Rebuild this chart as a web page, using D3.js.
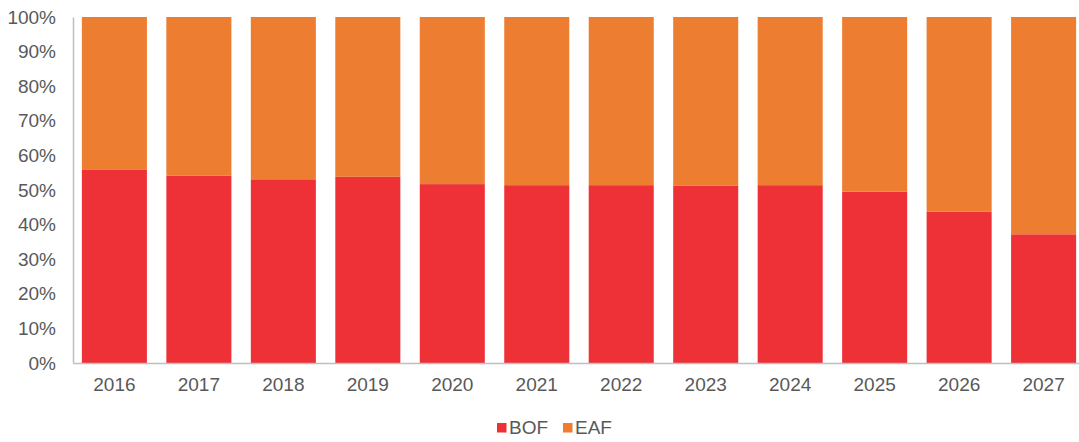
<!DOCTYPE html>
<html><head><meta charset="utf-8">
<script src="https://cdn.jsdelivr.net/npm/d3@7"></script>
<style>
html,body{margin:0;padding:0;background:#fff;}
svg{display:block;font-family:"Liberation Sans",Arial,sans-serif;}
</style></head>
<body>
<svg id="chart" width="1079" height="442"></svg>
<script>
const categories = ["2016","2017","2018","2019","2020","2021","2022","2023","2024","2025","2026","2027"];
const bofShare = [0.558,0.541,0.531,0.538,0.517,0.514,0.514,0.512,0.514,0.495,0.438,0.372];
const eafShare = bofShare.map(v => 1 - v);
const seriesNames = ["BOF","EAF"];
const seriesColors = ["#EE3137","#ED7D31"];
const yTicks = [0,0.1,0.2,0.3,0.4,0.5,0.6,0.7,0.8,0.9,1.0];

const svg = d3.select("#chart");
const x0 = 73, x1 = 1085, yTop = 17, yBot = 363;

const x = d3.scaleBand().domain(categories).range([x0, x1]).paddingInner(0.23).paddingOuter(0.105);
const y = d3.scaleLinear().domain([0,1]).range([yBot, yTop]);

const rows = categories.map((c,i) => ({cat:c, BOF:bofShare[i], EAF:eafShare[i]}));
const stacked = d3.stack().keys(seriesNames)(rows);

svg.append("g").selectAll("g").data(stacked).join("g")
  .attr("fill", (d,i) => seriesColors[i])
  .selectAll("rect").data(d => d).join("rect")
  .attr("x", d => x(d.data.cat))
  .attr("width", x.bandwidth())
  .attr("y", d => y(d[1]))
  .attr("height", d => y(d[0]) - y(d[1]));

// Y axis
const yAxis = svg.append("g").attr("transform", `translate(${x0},0)`)
  .call(d3.axisLeft(y).tickValues(yTicks).tickFormat(d3.format(".0%")).tickSize(0).tickPadding(17));
yAxis.select(".domain").attr("stroke","#bfbfbf").attr("stroke-width",1.5);
yAxis.selectAll("text").attr("fill","#595959").style("font-size","19px");

// X axis
const xAxis = svg.append("g").attr("transform", `translate(0,${yBot})`)
  .call(d3.axisBottom(x).tickSize(0).tickPadding(15));
xAxis.select(".domain").attr("stroke","#bfbfbf").attr("stroke-width",1.5);
xAxis.selectAll("text").attr("fill","#595959").style("font-size","19px");

// Legend
const legend = svg.append("g").attr("transform","translate(0,427.5)");
const legendX = [497, 563];
seriesNames.forEach((n,i) => {
  const g = legend.append("g").attr("transform",`translate(${legendX[i]},0)`);
  g.append("rect").attr("x",0).attr("y",-4.5).attr("width",9.5).attr("height",9.5).attr("fill",seriesColors[i]);
  g.append("text").attr("x",12).attr("y",0).attr("dy","0.35em")
    .attr("fill","#595959").style("font-size","19px").text(n);
});
</script>
</body></html>
